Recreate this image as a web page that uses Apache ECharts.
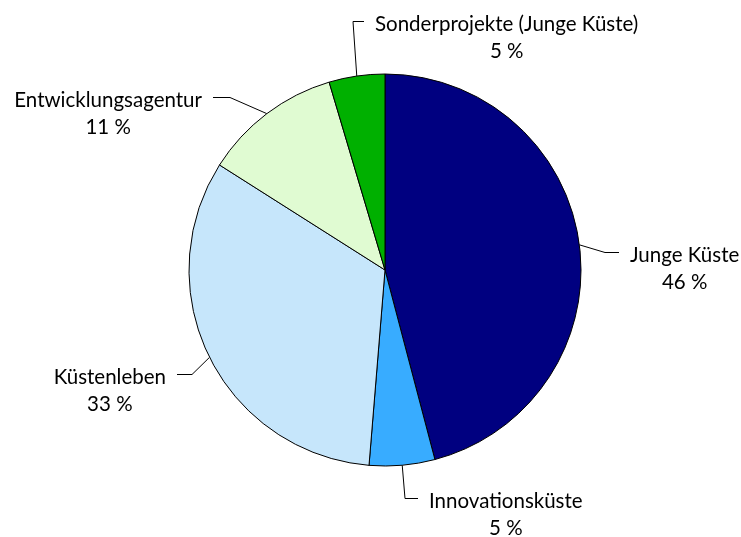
<!DOCTYPE html>
<html>
<head>
<meta charset="utf-8">
<script src="https://cdn.jsdelivr.net/npm/echarts@6/dist/echarts.min.js"></script>
<style>
html, body { margin: 0; padding: 0; background: #fff; }
#chart { width: 741px; height: 537px; }
</style>
</head>
<body>
<div id="chart"></div>
<script>
const categories = ['Junge Küste', 'Innovationsküste', 'Küstenleben', 'Entwicklungsagentur', 'Sonderprojekte (Junge Küste)']
const shares = [45.9, 5.4, 32.7, 11.4, 4.6]
const colors = ['#000080', '#38acff', '#c6e6fb', '#e0fbd2', '#00b000']

// label block: [text edge next to the leader, block centre y, side]
// side -1: leader comes in from the left, 1: from the right
const labelPos = [[630, 269, -1], [429, 515, -1], [166, 391, 1], [202, 114, 1], [375, 38, -1]]
const elbowLen = [14, 13, 15, 17, 11]
const lineH = 27

const chart = echarts.init(document.getElementById('chart'))
chart.setOption({
  animation: false,
  textStyle: { fontFamily: 'Lato' },
  series: [{
    type: 'pie',
    center: [385, 270],
    radius: 196,
    startAngle: 90,
    clockwise: true,
    data: categories.map((name, i) => ({ name: name, value: shares[i], itemStyle: { color: colors[i] } })),
    itemStyle: { borderColor: '#000', borderWidth: 1 },
    label: {
      show: true,
      position: 'outside',
      color: '#000',
      fontSize: 20.5,
      lineHeight: lineH,
      align: 'center',
      formatter: p => p.name + '\n' + Math.round(p.percent) + ' %'
    },
    labelLine: { show: true, length: 10, length2: 10, lineStyle: { color: '#000', width: 1 } },
    emphasis: { disabled: true },
    labelLayout: function (params) {
      const pos = labelPos[params.dataIndex]
      const w = params.labelRect.width
      const side = pos[2]
      const cx = pos[0] - side * w / 2
      const start = params.labelLinePoints ? params.labelLinePoints[0] : [cx, pos[1]]
      const endX = pos[0] + side * 11
      const endY = pos[1] - lineH / 2 - 3
      const elbow = [endX + side * elbowLen[params.dataIndex], endY]
      return {
        x: cx,
        y: pos[1],
        align: 'center',
        verticalAlign: 'middle',
        labelLinePoints: [start, elbow, [endX, endY]]
      }
    }
  }]
})
</script>
</body>
</html>
